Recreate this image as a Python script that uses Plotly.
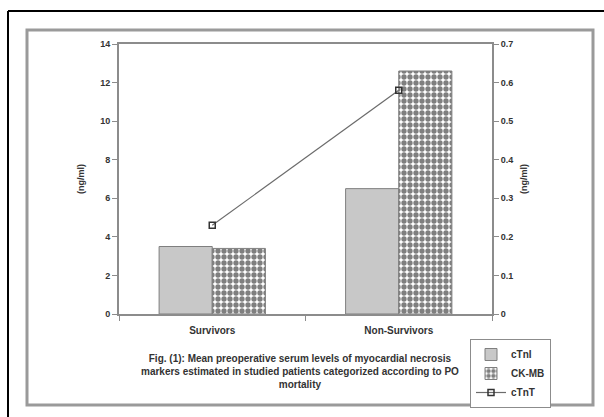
import plotly.graph_objects as go

# Study groups and marker levels
groups = ["Survivors", "Non-Survivors"]
ctni = [3.5, 6.5]      # ng/ml, left axis
ckmb = [3.4, 12.6]     # ng/ml, left axis
ctnt = [0.23, 0.58]    # ng/ml, right axis

left_ticks = [0, 2, 4, 6, 8, 10, 12, 14]
right_ticks = [0, 0.1, 0.2, 0.3, 0.4, 0.5, 0.6, 0.7]

caption = ("Fig. (1): Mean preoperative serum levels of myocardial necrosis<br>"
           "markers estimated in studied patients categorized according to PO<br>"
           "mortality")

W, H = 604, 417
L, R, T, B = 119, 492, 44, 314   # plot area in pixels


def px(x):
    return (x - L) / (R - L)


def py(y):
    return (B - y) / (B - T)


FONT = dict(family="Liberation Sans, Arial", size=10, color="#333333")
AX = "#8c8c8c"

fig = go.Figure()
fig.add_trace(go.Bar(
    x=groups, y=ctni, name="cTnI",
    marker=dict(color="#c8c8c8", line=dict(color="#7f7f7f", width=1)),
))
fig.add_trace(go.Bar(
    x=groups, y=ckmb, name="CK-MB",
    marker=dict(color="white", line=dict(color="#7f7f7f", width=1),
                pattern=dict(shape=".", fgcolor="black", bgcolor="white",
                             size=6, solidity=0.62)),
))
fig.add_trace(go.Scatter(
    x=groups, y=ctnt, name="cTnT", yaxis="y2", mode="lines+markers",
    line=dict(color="#6b6b6b", width=1.2),
    marker=dict(symbol="square-open", size=6, color="#333333",
                line=dict(width=1.5, color="#333333")),
))

fig.update_layout(
    width=W, height=H,
    margin=dict(l=L, r=W - R, t=T, b=H - B, autoexpand=False),
    paper_bgcolor="white", plot_bgcolor="white",
    font=FONT,
    barmode="group", bargap=0.43, bargroupgap=0,
    showlegend=True,
    legend=dict(x=px(470), y=py(339), xanchor="left", yanchor="top",
                bordercolor="#8c8c8c", borderwidth=1, bgcolor="white",
                font=dict(family="Liberation Sans, Arial", size=10,
                          color="#333333", weight="bold"),
                tracegroupgap=0, itemwidth=30),
    xaxis=dict(showline=True, linecolor=AX, linewidth=2, mirror=True,
               ticks="outside", tickson="boundaries", ticklen=5,
               tickcolor=AX, tickwidth=1,
               tickfont=dict(weight="bold", size=10), ticklabelstandoff=6),
    yaxis=dict(range=[0, 14], tickvals=left_ticks, showgrid=False,
               showline=True, linecolor=AX, linewidth=2,
               ticks="outside", ticklen=5, tickcolor=AX,
               tickfont=dict(weight="bold", size=9), zeroline=False,
               title=dict(text="(ng/ml)", font=dict(size=9, weight="bold"),
                          standoff=14)),
    yaxis2=dict(range=[0, 0.7], tickvals=right_ticks,
                ticktext=["0", "0.1", "0.2", "0.3", "0.4", "0.5", "0.6", "0.7"],
                overlaying="y", side="right", showgrid=False,
                showline=True, linecolor=AX, linewidth=2,
                ticks="outside", ticklen=5, tickcolor=AX,
                tickfont=dict(weight="bold", size=9), zeroline=False,
                title=dict(text="(ng/ml)", font=dict(size=9, weight="bold"),
                           standoff=8)),
)

fig.add_annotation(
    text=caption, xref="paper", yref="paper", x=px(300), y=py(371),
    showarrow=False, align="center", xanchor="center", yanchor="middle",
    font=dict(family="Liberation Sans, Arial", size=10, color="#333333",
              weight="bold"),
)

# Outer black rule along the top and left, inner grey panel
fig.add_shape(type="line", xref="paper", yref="paper",
              x0=px(8), x1=px(610), y0=py(11), y1=py(11),
              line=dict(color="black", width=2), layer="below")
fig.add_shape(type="line", xref="paper", yref="paper",
              x0=px(8), x1=px(8), y0=py(11), y1=py(430),
              line=dict(color="black", width=2), layer="below")
fig.add_shape(type="rect", xref="paper", yref="paper",
              x0=px(27), x1=px(593), y0=py(405), y1=py(30),
              line=dict(color="#9a9a9a", width=3), layer="below")

fig.write_html("out.html")
